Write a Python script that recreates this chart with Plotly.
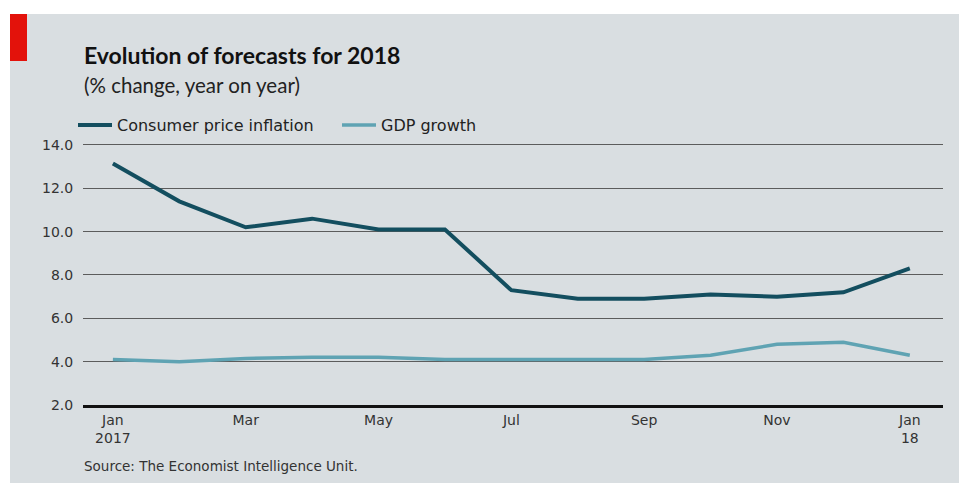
import plotly.graph_objects as go

months = ["Jan<br>2017", "Feb", "Mar", "Apr", "May", "Jun", "Jul", "Aug", "Sep", "Oct", "Nov", "Dec", "Jan<br>18"]
cpi = [13.15, 11.4, 10.2, 10.6, 10.1, 10.1, 7.3, 6.9, 6.9, 7.1, 7.0, 7.2, 8.3]
gdp = [4.1, 4.0, 4.15, 4.2, 4.2, 4.1, 4.1, 4.1, 4.1, 4.3, 4.8, 4.9, 4.3]
tick_idx = [0, 2, 4, 6, 8, 10, 12]
y_ticks = [2, 4, 6, 8, 10, 12, 14]

x = list(range(len(months)))
TFONT = "Lato, Open Sans, sans-serif"
FONT = "DejaVu Sans, sans-serif"
BG = "#d9dee1"

fig = go.Figure()
fig.add_trace(go.Scatter(x=x, y=gdp, mode="lines", name="GDP growth",
                         line=dict(color="#5fa3b3", width=3.5)))
fig.add_trace(go.Scatter(x=x, y=cpi, mode="lines", name="Consumer price inflation",
                         line=dict(color="#134e5f", width=4)))

L, R, T, B = 83, 16, 140, 78
W, H = 959, 483
pw, ph = W - L - R, H - T - B

def px_x(p):
    return (p - L) / pw

def px_y(p):
    return (H - B - p) / ph

shapes = [
    dict(type="rect", xref="paper", yref="paper", x0=px_x(10), x1=px_x(960),
         y0=px_y(484), y1=px_y(14), fillcolor=BG, line_width=0, layer="below"),
    dict(type="rect", xref="paper", yref="paper", x0=px_x(10), x1=px_x(27),
         y0=px_y(61), y1=px_y(14), fillcolor="#e3120b", line_width=0, layer="below"),
]

fig.update_layout(
    width=W, height=H,
    margin=dict(l=L, r=R, t=T, b=B),
    paper_bgcolor="white",
    plot_bgcolor="rgba(0,0,0,0)",
    shapes=shapes,
    font=dict(family=FONT, color="#333333", size=14),
    showlegend=True,
    legend=dict(orientation="h", x=px_x(73), y=px_y(125), xanchor="left", yanchor="middle",
                traceorder="reversed", font=dict(size=16, color="#222", family=FONT),
                bgcolor="rgba(0,0,0,0)", entrywidth=215, entrywidthmode="pixels",
                itemwidth=34),
    annotations=[
        dict(text="<b>Evolution of forecasts for 2018</b>", xref="paper", yref="paper",
             x=px_x(82), y=px_y(55), xanchor="left", yanchor="middle", showarrow=False,
             font=dict(size=23, color="#111", family=TFONT)),
        dict(text="(% change, year on year)", xref="paper", yref="paper",
             x=px_x(82), y=px_y(85), xanchor="left", yanchor="middle", showarrow=False,
             font=dict(size=20.5, color="#222", family=TFONT)),
        dict(text="Source: The Economist Intelligence Unit.", xref="paper", yref="paper",
             x=px_x(82), y=px_y(466), xanchor="left", yanchor="middle", showarrow=False,
             font=dict(size=13.5, color="#333", family=FONT)),
    ],
    hovermode=False,
)

fig.update_xaxes(range=[-0.45, 12.5], tickvals=tick_idx,
                 ticktext=[months[i] for i in tick_idx],
                 showgrid=False, zeroline=False,
                 showline=True, linecolor="#111", linewidth=2.5, ticks="",
                 tickfont=dict(size=14, color="#333", family=FONT))
fig.update_yaxes(range=[2, 14.23], tickvals=y_ticks, tickformat=".1f",
                 showgrid=True, gridcolor="#5c5c5c", gridwidth=1,
                 zeroline=False, showline=False, ticks="outside", ticklen=6,
                 tickcolor="rgba(0,0,0,0)", tickfont=dict(size=14, color="#333", family=FONT))

fig.write_html("out.html", config={"displayModeBar": False},
               post_script="document.body.style.margin='0';")
